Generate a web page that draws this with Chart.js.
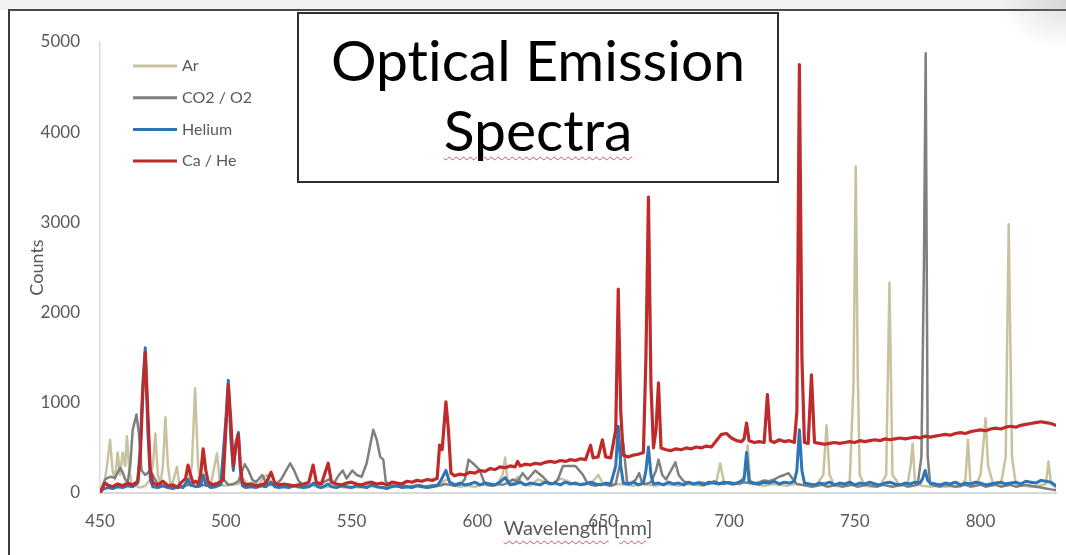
<!DOCTYPE html>
<html>
<head>
<meta charset="utf-8">
<title>Optical Emission Spectra</title>
<script src="https://cdn.jsdelivr.net/npm/chart.js@4.4.1/dist/chart.umd.min.js"></script>
<style>
  html, body { margin: 0; padding: 0; background: #fff; }
  #wrap { position: relative; width: 1066px; height: 555px; overflow: hidden; font-family: Lato, "Open Sans", sans-serif;
          font-variant-ligatures: none; font-feature-settings: "liga" 0, "clig" 0; }
  #topband { position: absolute; left: 0; top: 0; width: 1066px; height: 10px; background: #f2f2f2; }
  #frame { position: absolute; left: 8px; top: 9px; width: 1100px; height: 600px; border-left: 2px solid #3c3c3c; border-top: 2px solid #4a4a4a; }
  #corner { position: absolute; right: 0; top: 0; width: 70px; height: 50px;
            background: radial-gradient(ellipse at top right, rgba(150,150,150,0.3), rgba(255,255,255,0) 70%); }
  canvas { position: absolute; left: 0; top: 0; }
  #titlebox { position: absolute; left: 297px; top: 12px; width: 482px; height: 171px; box-sizing: border-box;
              border: 2px solid #2e2e2e; background: #fff; text-align: center; color: #000;
              font-size: 57px; line-height: 70px; padding-top: 10px; }
  .typo { text-decoration: underline wavy #e05050; text-decoration-thickness: 1px; text-underline-offset: 5px; }
  #xtitle { position: absolute; left: 100px; width: 956px; top: 515px; text-align: center;
            font-size: 20px; line-height: 24px; color: #595959; }
</style>
</head>
<body>
<div id="wrap">
  <div id="topband"></div>
  <div id="frame"></div>
  <div id="corner"></div>
  <canvas id="spectra" width="1066" height="555"></canvas>
  <div id="titlebox">Optical Emission<br><span class="typo">Spectra</span></div>
  <div id="xtitle"><span class="typo">Wavelength</span> [<span class="typo">nm</span>]</div>
</div>
<script>
// Ar lamp
const arWl = [
  450, 451, 452, 453, 454, 455, 456, 457, 458, 459,
  460, 460.7, 461.5, 462.5, 464, 466, 468, 470, 471, 472,
  473, 474, 475, 476, 477, 478, 479, 480.6, 481.5, 483,
  485, 486.5, 487.8, 489, 490, 492, 494, 495.5, 496.5, 497.5,
  499, 502, 505, 507, 509, 511, 513, 515, 516.5, 518,
  520, 523, 526, 529, 532, 535, 538, 541, 544, 547,
  550, 553, 556, 559, 562, 565, 568, 571, 574, 577,
  580, 583, 586, 588, 590, 593, 596, 599, 602, 605,
  608, 610, 611, 612, 614, 616, 618, 621, 624, 627,
  630, 633, 636, 639, 642, 645, 648, 650, 653, 656,
  659, 662, 665, 668, 671, 674, 677, 680, 683, 686,
  689, 692, 695, 696.5, 698, 701, 704, 706.5, 707.4, 708.5,
  711, 714, 717, 720, 723, 726, 729, 732, 735, 737.5,
  738.8, 740, 742, 745, 748, 749.5, 750.4, 751.2, 752, 754,
  757, 760, 762.5, 763.8, 765, 768, 771, 772.2, 773, 774,
  777, 780, 783, 786, 789, 792, 794, 795, 796, 798,
  800, 801, 802, 803, 805, 808, 810, 811.2, 812.5, 814,
  817, 820, 823, 826, 827, 828, 830
];
const arCounts = [
  0, 50, 150, 350, 590, 250, 150, 450, 200, 450,
  300, 630, 300, 100, 80, 60, 80, 150, 300, 660,
  200, 100, 300, 840, 300, 100, 120, 290, 100, 80,
  100, 300, 1160, 300, 100, 80, 90, 300, 440, 150,
  80, 90, 100, 150, 100, 120, 80, 180, 200, 100,
  80, 70, 80, 60, 70, 80, 60, 70, 80, 60,
  70, 60, 80, 70, 60, 70, 80, 60, 70, 80,
  70, 80, 120, 150, 90, 70, 80, 70, 90, 80,
  100, 200, 390, 150, 100, 180, 100, 80, 150, 120,
  100, 160, 130, 90, 110, 100, 200, 100, 80, 100,
  90, 80, 100, 90, 80, 100, 90, 80, 100, 90,
  80, 100, 120, 330, 120, 90, 110, 200, 530, 120,
  90, 80, 100, 90, 80, 100, 90, 80, 100, 200,
  750, 200, 80, 70, 120, 1200, 3620, 1330, 200, 80,
  70, 80, 200, 2330, 200, 80, 100, 300, 550, 100,
  80, 70, 80, 70, 80, 70, 150, 590, 100, 80,
  200, 500, 830, 300, 100, 80, 400, 2980, 400, 100,
  80, 70, 80, 100, 350, 100, 60
];

// CO2 / O2 plasma
const co2Wl = [
  450, 451, 452, 454, 456, 458, 459, 460, 461, 462,
  463, 464.5, 465.5, 466.5, 468, 470, 471.5, 473, 475, 477,
  479, 481, 483, 485, 487, 489, 491, 493, 495, 497,
  499.5, 501, 503, 505, 507.5, 509, 510.5, 512, 514.5, 516,
  518, 520, 522, 524, 525.6, 527, 529, 531, 533, 535,
  537, 539, 541, 543, 545, 546.5, 548, 550.3, 552, 554,
  556, 558.6, 560, 561.4, 562.6, 563.6, 565, 567, 569, 571,
  573, 575, 577, 579, 581, 583, 585, 587, 589, 591,
  593, 595, 596.5, 599, 601, 602.5, 604, 606, 608, 610,
  612, 614, 616, 618, 620, 623, 626, 628, 630, 632,
  634, 636, 639, 640.5, 642, 643.5, 645, 647, 649, 651,
  653, 655, 656.5, 658, 659.5, 661, 663, 664.3, 665.5, 667,
  669, 671, 672, 673.5, 675, 677, 678.7, 680, 682, 684,
  686, 688, 690, 692, 694, 696, 698, 700, 702, 704,
  706, 708, 710, 712, 714, 716, 718, 720, 722, 723.7,
  725.5, 727, 729, 731, 733, 735, 737, 739, 741, 743,
  745, 747, 749, 751, 753, 755, 757, 759, 761, 763,
  765, 767, 769, 771, 773, 775, 776.5, 777.5, 778.2, 779,
  780, 782, 784, 786, 788, 790, 792, 794, 796, 798,
  800, 802, 804, 806, 808, 810, 812, 814, 816, 818,
  820, 822, 824, 826, 828, 830
];
const co2Counts = [
  0, 80, 150, 180, 170, 280, 230, 150, 120, 300,
  700, 870, 650, 250, 200, 250, 170, 100, 80, 70,
  60, 80, 70, 90, 80, 70, 90, 80, 100, 110,
  140, 90, 100, 130, 320, 250, 150, 120, 200, 110,
  90, 100, 150, 250, 330, 260, 130, 90, 80, 100,
  90, 120, 150, 110, 200, 250, 160, 250, 200, 180,
  330, 700, 590, 400, 370, 130, 90, 80, 70, 80,
  70, 80, 90, 70, 80, 90, 80, 100, 90, 80,
  90, 150, 370, 310, 250, 130, 90, 80, 100, 90,
  110, 150, 130, 220, 150, 250, 180, 120, 100, 150,
  300, 300, 300, 250, 200, 120, 90, 80, 100, 90,
  80, 100, 300, 550, 120, 100, 150, 220, 110, 100,
  120, 250, 370, 200, 150, 250, 340, 200, 130, 110,
  100, 120, 110, 100, 130, 110, 100, 120, 110, 100,
  120, 110, 100, 120, 140, 130, 150, 180, 200, 220,
  150, 100, 90, 80, 70, 80, 90, 70, 80, 90,
  70, 80, 90, 70, 80, 90, 80, 70, 90, 80,
  70, 80, 90, 70, 80, 90, 400, 2500, 4875, 400,
  100, 80, 70, 90, 80, 70, 80, 90, 70, 80,
  90, 70, 80, 90, 70, 80, 90, 70, 80, 90,
  80, 70, 60, 50, 40, 30
];

// Helium plasma
const heWl = [
  450, 451, 453, 455, 457, 459, 461, 463, 465, 466,
  467, 468, 469, 470, 471, 473, 475, 477, 479, 481,
  483, 485, 486, 488, 490, 491, 492, 494, 496, 498,
  500, 501, 502, 503, 504, 505, 505.8, 506.6, 508, 510,
  512, 514, 516, 518, 519.5, 521, 523, 525, 527, 529,
  531, 533, 535, 536.5, 538, 540.7, 542, 544, 546, 548,
  550, 552, 554, 556, 558, 560, 562, 564, 566, 568,
  570, 572, 574, 576, 578, 580, 582, 584, 585.5, 587.5,
  589, 591, 593, 595, 597, 599, 601, 603, 605, 607,
  609, 611, 613, 615, 617, 619, 621, 623, 625, 627,
  629, 631, 633, 635, 637, 639, 641, 643, 645, 647,
  649, 651, 653, 655, 656, 657, 658, 660, 662, 664,
  666, 667, 668, 669, 670, 672, 674, 676, 678, 680,
  682, 684, 686, 688, 690, 692, 694, 696, 698, 700,
  702, 704, 706, 707, 708, 710, 712, 714, 716, 718,
  720, 722, 724, 726, 727, 728, 729, 730, 732, 734,
  736, 738, 740, 742, 744, 746, 748, 750, 752, 754,
  756, 758, 760, 762, 764, 766, 768, 770, 772, 774,
  776, 777, 778, 779, 780, 782, 784, 786, 788, 790,
  792, 794, 796, 798, 800, 802, 804, 806, 808, 810,
  812, 814, 816, 818, 820, 822, 824, 826, 828, 830
];
const heCounts = [
  0, 40, 60, 50, 70, 60, 80, 70, 110, 500,
  1200, 1610, 700, 150, 70, 60, 80, 60, 50, 70,
  60, 150, 90, 70, 80, 200, 100, 60, 70, 90,
  800, 1250, 600, 250, 550, 670, 250, 80, 60, 70,
  60, 80, 70, 120, 70, 60, 70, 60, 80, 70,
  60, 70, 110, 70, 60, 100, 70, 60, 80, 70,
  60, 80, 70, 60, 90, 70, 60, 50, 70, 80,
  60, 70, 60, 80, 70, 60, 70, 80, 140, 250,
  120, 90, 110, 90, 100, 120, 90, 110, 100, 90,
  120, 170, 90, 100, 120, 90, 110, 100, 90, 120,
  100, 110, 90, 120, 100, 110, 90, 100, 120, 100,
  90, 110, 100, 300, 740, 300, 110, 100, 120, 90,
  110, 250, 510, 200, 100, 110, 90, 120, 100, 110,
  90, 120, 100, 110, 90, 120, 110, 100, 120, 110,
  100, 120, 150, 450, 130, 110, 100, 120, 110, 130,
  100, 120, 110, 130, 250, 700, 250, 110, 100, 90,
  110, 100, 120, 90, 110, 100, 120, 90, 110, 100,
  120, 100, 90, 110, 120, 100, 90, 110, 100, 120,
  110, 160, 250, 140, 110, 100, 90, 110, 100, 120,
  90, 110, 100, 120, 110, 90, 100, 110, 120, 100,
  110, 120, 100, 130, 120, 110, 140, 130, 120, 80
];

// Ca / He plasma
const caWl = [
  450, 451, 452, 453, 455, 457, 459, 461, 463, 465,
  466, 467, 468, 469, 470, 471, 473, 475, 477, 479,
  481, 482, 484, 485, 486, 487, 488, 489, 490, 491,
  492, 493, 495, 497, 499, 500, 501, 502, 503, 504,
  505, 505.8, 506.6, 508, 510, 512, 514, 516, 518, 519.5,
  521, 523, 525, 527, 529, 531, 533, 534.7, 536, 538,
  540.7, 542, 544, 546, 548, 550, 552, 554, 556, 558,
  560, 562, 564, 566, 568, 570, 572, 574, 576, 578,
  580, 582, 584, 585, 586, 587.5, 588.5, 589.5, 591, 593,
  595, 597, 599, 601, 603, 605, 607, 609, 611, 613,
  615, 616, 617, 619, 621, 623, 625, 627, 629, 631,
  633, 635, 637, 639, 641, 643, 645, 646, 648, 649.7,
  651, 653, 655, 656, 657, 658, 660, 662, 664, 666,
  667, 668, 669, 670, 671, 672, 673, 675, 677, 679,
  681, 683, 685, 687, 689, 691, 693, 695, 697, 699,
  701, 703, 705, 706, 707, 708, 710, 712, 714, 715.3,
  716.5, 718, 720, 722, 724, 726, 727, 728, 729, 730,
  731.5, 732.8, 734, 736, 738, 740, 742, 744, 746, 748,
  750, 752, 754, 756, 758, 760, 762, 764, 766, 768,
  770, 772, 774, 776, 778, 780, 782, 784, 786, 788,
  790, 792, 794, 796, 798, 800, 802, 804, 806, 808,
  810, 812, 814, 816, 818, 820, 822, 824, 826, 828,
  830
];
const caCounts = [
  0, 60, 110, 90, 70, 100, 80, 110, 90, 130,
  400, 1100, 1560, 900, 250, 110, 90, 130, 80, 90,
  60, 110, 160, 310, 200, 110, 130, 100, 200, 490,
  260, 120, 90, 110, 150, 700, 1200, 800, 300, 520,
  650, 300, 120, 90, 100, 80, 90, 110, 230, 110,
  90, 100, 90, 80, 90, 100, 120, 310, 120, 100,
  330, 120, 100, 90, 110, 120, 100, 90, 110, 120,
  100, 110, 90, 120, 110, 100, 130, 120, 140, 130,
  150, 140, 160, 530, 480, 1010, 700, 220, 190, 210,
  200, 230, 220, 250, 240, 270, 260, 290, 280, 300,
  290, 350, 300, 320, 310, 330, 320, 340, 350, 340,
  360, 350, 370, 360, 380, 370, 530, 390, 400, 590,
  400, 390, 700, 2260, 900, 420, 400, 420, 430, 450,
  1500, 3280, 1200, 500, 700, 1220, 500, 480, 470, 490,
  480, 500, 490, 510, 500, 520, 510, 580, 650, 660,
  610, 580, 570, 600, 775, 580, 560, 570, 560, 1090,
  580, 560, 590, 570, 580, 560, 900, 4750, 1500, 560,
  550, 1310, 560, 550, 540, 550, 560, 550, 560, 570,
  560, 580, 570, 580, 590, 580, 600, 590, 600, 610,
  600, 610, 620, 610, 630, 620, 630, 640, 650, 640,
  660, 670, 660, 680, 690, 700, 690, 710, 720, 710,
  730, 740, 730, 750, 760, 770, 780, 790, 780, 770,
  750
];

const xTicks = [450, 500, 550, 600, 650, 700, 750, 800];
const yTicks = [0, 1000, 2000, 3000, 4000, 5000];

const toPoints = (wl, counts) => wl.map((x, i) => ({ x: x, y: counts[i] }));

// legend drawn inside the plot, top left
const insideLegend = {
  id: 'insideLegend',
  afterDraw(chart) {
    const { ctx, chartArea } = chart;
    ctx.save();
    ctx.font = '16px Lato';
    ctx.textBaseline = 'middle';
    chart.data.datasets.forEach((ds, i) => {
      const y = chartArea.top + 24 + i * 31.7;
      ctx.strokeStyle = ds.borderColor;
      ctx.lineWidth = 3;
      ctx.beginPath();
      ctx.moveTo(chartArea.left + 33, y);
      ctx.lineTo(chartArea.left + 77, y);
      ctx.stroke();
      ctx.fillStyle = '#595959';
      ctx.fillText(ds.label, chartArea.left + 82, y);
    });
    ctx.restore();
  }
};

new Chart(document.getElementById('spectra'), {
  type: 'line',
  data: {
    datasets: [
      { label: 'Ar', data: toPoints(arWl, arCounts), borderColor: '#c9c2a1', borderWidth: 2.5, order: 4 },
      { label: 'CO2 / O2', data: toPoints(co2Wl, co2Counts), borderColor: '#7f7f7f', borderWidth: 2.5, order: 3 },
      { label: 'Helium', data: toPoints(heWl, heCounts), borderColor: '#2e75b6', borderWidth: 3, order: 2 },
      { label: 'Ca / He', data: toPoints(caWl, caCounts), borderColor: '#bf2a2a', borderWidth: 3.2, order: 1 }
    ]
  },
  options: {
    responsive: false,
    animation: false,
    events: [],
    layout: { padding: { left: 0, right: 10, top: 42, bottom: 0 } },
    elements: {
      line: { tension: 0, borderJoinStyle: 'round', borderCapStyle: 'round' },
      point: { radius: 0 }
    },
    plugins: {
      legend: { display: false },
      tooltip: { enabled: false }
    },
    scales: {
      x: {
        type: 'linear',
        min: 450,
        max: 830,
        afterBuildTicks: (scale) => { scale.ticks = xTicks.map(v => ({ value: v })); },
        afterFit: (scale) => { scale.height = 62; },
        grid: { display: false, drawTicks: false },
        border: { display: true, color: '#d9d9d9', width: 2 },
        ticks: { padding: 18, color: '#595959', font: { family: 'Lato', size: 17 }, callback: (v) => String(v) }
      },
      y: {
        min: 0,
        max: 5000,
        afterBuildTicks: (scale) => { scale.ticks = yTicks.map(v => ({ value: v })); },
        afterFit: (scale) => { scale.width = 100; },
        grid: { display: false, drawTicks: false },
        border: { display: true, color: '#d9d9d9', width: 1.5 },
        ticks: { padding: 20, color: '#595959', font: { family: 'Lato', size: 17 }, callback: (v) => String(v) },
        title: {
          display: true,
          text: 'Counts',
          color: '#595959',
          font: { family: 'Lato', size: 18 },
          padding: { top: 26, bottom: 0 }
        }
      }
    }
  },
  plugins: [insideLegend]
});
</script>
</body>
</html>
